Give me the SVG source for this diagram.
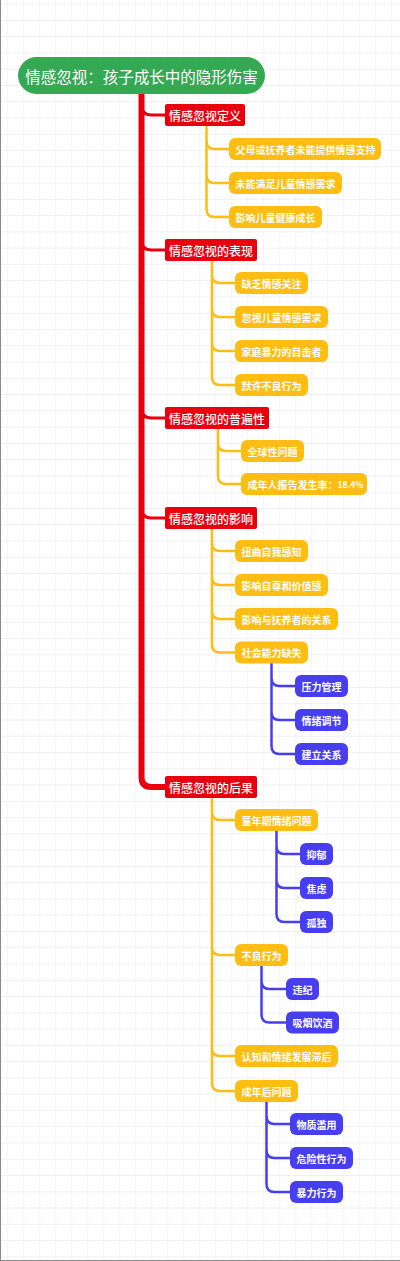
<svg xmlns="http://www.w3.org/2000/svg" width="400" height="1261" viewBox="0 0 400 1261">
<defs>
<pattern id="grid" patternUnits="userSpaceOnUse" x="7.3" y="3.6" width="16" height="16.27">
<path d="M0,0 V16.27 M0,0 H16" fill="none" stroke="#ececec" stroke-width="1.4"/>
</pattern>
<style>
text{font-family:"Noto Sans CJK SC","Noto Sans",sans-serif;fill:#fff;dominant-baseline:central;}
.root rect{fill:#35a853;}
.root text{font-size:15.5px;text-anchor:middle;}
.l1 rect{fill:#e8000e;}
.l1 text{font-size:12px;font-weight:500;}
.l2 rect{fill:#fdbd12;}
.l2 text{font-size:10px;font-weight:bold;}
.l3 rect{fill:#473ef0;}
.l3 text{font-size:10px;font-weight:bold;}
.c-red{fill:none;stroke:#e8000e;stroke-linecap:round;stroke-linejoin:round;}
.c-yel{fill:none;stroke:#fdbd12;stroke-width:2.5;stroke-linecap:round;}
.c-blu{fill:none;stroke:#473ef0;stroke-width:2.5;stroke-linecap:round;}
</style>
</defs>
<rect width="400" height="1261" fill="#fff"/>
<rect width="400" height="1261" fill="url(#grid)"/>
<path d="M0.5,0 V1261 M0,1260.5 H400" stroke="#8a8a8a" stroke-width="1" fill="none"/>

<g id="connectors">
<path class="c-red" stroke-width="6" d="M141.5,94 V777 Q141.5,787 151.5,787 H166"/>
<path class="c-red" stroke-width="3" d="M141.5,105 Q141.5,115 151.5,115 H166"/>
<path class="c-red" stroke-width="3" d="M141.5,240 Q141.5,250 151.5,250 H166"/>
<path class="c-red" stroke-width="3" d="M141.5,408 Q141.5,418 151.5,418 H166"/>
<path class="c-red" stroke-width="3" d="M141.5,508 Q141.5,518 151.5,518 H166"/>
<path class="c-yel" d="M206.5,126 V209 Q206.5,217 214.5,217 H229 M206.5,141 Q206.5,149 214.5,149 H229 M206.5,175 Q206.5,183 214.5,183 H229"/>
<path class="c-yel" d="M212,261 V377 Q212,385 220,385 H235 M212,275 Q212,283 220,283 H235 M212,309 Q212,317 220,317 H235 M212,343 Q212,351 220,351 H235"/>
<path class="c-yel" d="M218,429 V476 Q218,484 226,484 H241 M218,443 Q218,451 226,451 H241"/>
<path class="c-yel" d="M212,528 V644.5 Q212,652.5 220,652.5 H235 M212,543 Q212,551 220,551 H235 M212,577 Q212,585 220,585 H235 M212,611 Q212,619 220,619 H235"/>
<path class="c-blu" d="M271.5,663.5 V746 Q271.5,754 279.5,754 H295 M271.5,678 Q271.5,686 279.5,686 H295 M271.5,712 Q271.5,720 279.5,720 H295"/>
<path class="c-yel" d="M212,798 V1083 Q212,1091 220,1091 H235 M212,812 Q212,820 220,820 H235 M212,947 Q212,955 220,955 H235 M212,1048 Q212,1056 220,1056 H235"/>
<path class="c-blu" d="M276.5,831 V914 Q276.5,922 284.5,922 H300 M276.5,846 Q276.5,854 284.5,854 H300 M276.5,880 Q276.5,888 284.5,888 H300"/>
<path class="c-blu" d="M261.5,966 V1014.5 Q261.5,1022.5 269.5,1022.5 H286 M261.5,981 Q261.5,989 269.5,989 H286"/>
<path class="c-blu" d="M266.5,1102 V1184 Q266.5,1192 274.5,1192 H290 M266.5,1116 Q266.5,1124 274.5,1124 H290 M266.5,1150 Q266.5,1158 274.5,1158 H290"/>
</g>

<g id="root" class="root"><rect x="18" y="57" width="247" height="37" rx="18.5"/><text x="141.5" y="75.5">情感忽视：孩子成长中的隐形伤害</text></g>

<g id="n1" class="l1"><rect x="165" y="104" width="80" height="22" rx="2"/><text x="169" y="115">情感忽视定义</text></g>
<g id="n1a" class="l2"><rect x="229" y="138" width="152" height="22" rx="6"/><text x="235.5" y="149">父母或抚养者未能提供情感支持</text></g>
<g id="n1b" class="l2"><rect x="229" y="172" width="113" height="22" rx="6"/><text x="235.5" y="183">未能满足儿童情感需求</text></g>
<g id="n1c" class="l2"><rect x="229" y="206" width="93" height="22" rx="6"/><text x="235.5" y="217">影响儿童健康成长</text></g>

<g id="n2" class="l1"><rect x="165" y="239" width="92" height="22" rx="2"/><text x="169" y="250">情感忽视的表现</text></g>
<g id="n2a" class="l2"><rect x="235" y="272" width="73" height="22" rx="6"/><text x="241.5" y="283">缺乏情感关注</text></g>
<g id="n2b" class="l2"><rect x="235" y="306" width="93" height="22" rx="6"/><text x="241.5" y="317">忽视儿童情感需求</text></g>
<g id="n2c" class="l2"><rect x="235" y="340" width="93" height="22" rx="6"/><text x="241.5" y="351">家庭暴力的目击者</text></g>
<g id="n2d" class="l2"><rect x="235" y="374" width="73" height="22" rx="6"/><text x="241.5" y="385">默许不良行为</text></g>

<g id="n3" class="l1"><rect x="165" y="407" width="104" height="22" rx="2"/><text x="169" y="418">情感忽视的普遍性</text></g>
<g id="n3a" class="l2"><rect x="241" y="440" width="63" height="22" rx="6"/><text x="247.5" y="451">全球性问题</text></g>
<g id="n3b" class="l2"><rect x="241" y="473" width="126" height="22" rx="6"/><text x="247.5" y="484">成年人报告发生率：<tspan font-size="8.5">18.4%</tspan></text></g>

<g id="n4" class="l1"><rect x="165" y="507" width="92" height="22" rx="2"/><text x="169" y="518">情感忽视的影响</text></g>
<g id="n4a" class="l2"><rect x="235" y="540" width="73" height="22" rx="6"/><text x="241.5" y="551">扭曲自我感知</text></g>
<g id="n4b" class="l2"><rect x="235" y="574" width="93" height="22" rx="6"/><text x="241.5" y="585">影响自尊和价值感</text></g>
<g id="n4c" class="l2"><rect x="235" y="608" width="103" height="22" rx="6"/><text x="241.5" y="619">影响与抚养者的关系</text></g>
<g id="n4d" class="l2"><rect x="235" y="641.5" width="73" height="22" rx="6"/><text x="241.5" y="652.5">社会能力缺失</text></g>
<g id="n4d1" class="l3"><rect x="295" y="675" width="53" height="22" rx="6"/><text x="301.5" y="686">压力管理</text></g>
<g id="n4d2" class="l3"><rect x="295" y="709" width="53" height="22" rx="6"/><text x="301.5" y="720">情绪调节</text></g>
<g id="n4d3" class="l3"><rect x="295" y="743" width="53" height="22" rx="6"/><text x="301.5" y="754">建立关系</text></g>

<g id="n5" class="l1"><rect x="165" y="776" width="92" height="22" rx="2"/><text x="169" y="787">情感忽视的后果</text></g>
<g id="n5a" class="l2"><rect x="235" y="809" width="83" height="22" rx="6"/><text x="241.5" y="820">童年期情绪问题</text></g>
<g id="n5a1" class="l3"><rect x="300" y="843" width="33" height="22" rx="6"/><text x="306.5" y="854">抑郁</text></g>
<g id="n5a2" class="l3"><rect x="300" y="877" width="33" height="22" rx="6"/><text x="306.5" y="888">焦虑</text></g>
<g id="n5a3" class="l3"><rect x="300" y="911" width="33" height="22" rx="6"/><text x="306.5" y="922">孤独</text></g>
<g id="n5b" class="l2"><rect x="235" y="944" width="53" height="22" rx="6"/><text x="241.5" y="955">不良行为</text></g>
<g id="n5b1" class="l3"><rect x="286" y="978" width="33" height="22" rx="6"/><text x="292.5" y="989">违纪</text></g>
<g id="n5b2" class="l3"><rect x="286" y="1011.5" width="53" height="22" rx="6"/><text x="292.5" y="1022.5">吸烟饮酒</text></g>
<g id="n5c" class="l2"><rect x="235" y="1045" width="103" height="22" rx="6"/><text x="241.5" y="1056">认知和情绪发展滞后</text></g>
<g id="n5d" class="l2"><rect x="235" y="1080" width="63" height="22" rx="6"/><text x="241.5" y="1091">成年后问题</text></g>
<g id="n5d1" class="l3"><rect x="290" y="1113" width="53" height="22" rx="6"/><text x="296.5" y="1124">物质滥用</text></g>
<g id="n5d2" class="l3"><rect x="290" y="1147" width="63" height="22" rx="6"/><text x="296.5" y="1158">危险性行为</text></g>
<g id="n5d3" class="l3"><rect x="290" y="1181" width="53" height="22" rx="6"/><text x="296.5" y="1192">暴力行为</text></g>
</svg>
